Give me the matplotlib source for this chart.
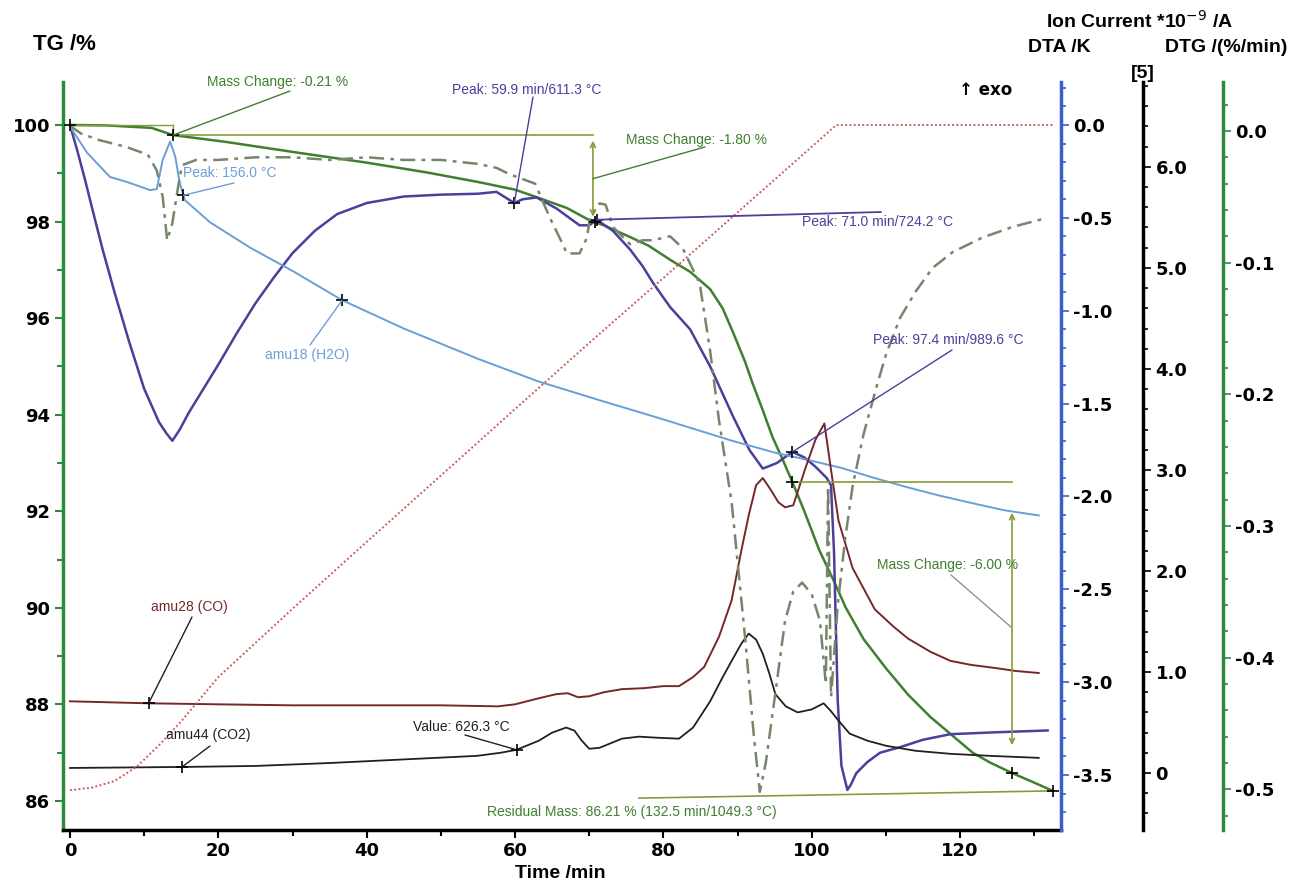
import numpy as np
import matplotlib
matplotlib.use("Agg")
import matplotlib.pyplot as plt
from matplotlib import font_manager
from matplotlib.ticker import MultipleLocator, FuncFormatter

W, H = 1289, 883

# fonts: narrow Arial-like if we have it
def pick_font(names):
    for n in names:
        try:
            font_manager.findfont(n, fallback_to_default=False)
            return n
        except Exception:
            pass
    return "DejaVu Sans"

NARROW = pick_font(["Liberation Sans Narrow", "Liberation Sans"])
SANS = pick_font(["Liberation Sans", "DejaVu Sans"])
plt.rcParams["font.family"] = [SANS, "DejaVu Sans"]

# ---- data, time in min ----
# TG /%
tg_t = [0, 5, 11, 13.9, 21, 31, 40, 48, 55, 60, 63, 67, 70, 72, 75.5, 78, 81,
        83.6, 86.3, 88, 89.4, 91, 92, 93.5, 94.7, 96, 97.4, 99, 101, 103, 104.6,
        107, 110, 113, 116, 119, 121.7, 124, 127, 130, 132.5]
tg = [100, 99.99, 99.94, 99.79, 99.65, 99.42, 99.22, 99.02, 98.82, 98.66, 98.5,
      98.28, 98.03, 97.92, 97.68, 97.5, 97.2, 96.96, 96.6, 96.2, 95.7, 95.1,
      94.66, 94.05, 93.54, 93.1, 92.6, 92.0, 91.2, 90.55, 90.0, 89.35, 88.75,
      88.2, 87.74, 87.35, 87.0, 86.8, 86.58, 86.38, 86.21]

# DTA /K
dta_t = [0, 1, 2, 3, 4.4, 6, 8, 10, 12, 13, 13.8, 14.8, 16, 18, 20, 22.5, 25,
         27.5, 30, 33, 36, 40, 45, 50, 55, 57.5, 59.9, 61, 62.9, 65.6, 68.7, 70,
         71.0, 73.2, 75.5, 77.2, 78.6, 80.9, 83.6, 86.3, 89.4, 91.6, 93.4, 95.3,
         97.4, 99, 100.5, 102, 102.6, 103, 103.5, 104, 104.8, 105.3, 106, 107.5,
         109.2, 111.9, 115, 118.7, 124.7, 131.8]
dta = [0, -0.14, -0.29, -0.45, -0.67, -0.9, -1.17, -1.42, -1.6, -1.66, -1.70,
       -1.64, -1.55, -1.42, -1.29, -1.12, -0.96, -0.82, -0.69, -0.57, -0.48,
       -0.42, -0.385, -0.375, -0.37, -0.36, -0.42, -0.40, -0.39, -0.45, -0.54,
       -0.54, -0.51, -0.57, -0.67, -0.76, -0.85, -0.98, -1.10, -1.30, -1.57,
       -1.75, -1.85, -1.82, -1.76, -1.79, -1.84, -1.90, -1.94, -2.3, -3.1,
       -3.45, -3.58, -3.55, -3.49, -3.43, -3.38, -3.35, -3.31, -3.28, -3.27,
       -3.26]

# DTG /(%/min)
dtg_t = [0, 1.5, 4, 7.5, 10.5, 11.7, 12.5, 13.1, 13.8, 14.5, 15.1, 17, 20, 25,
         30, 35, 40, 45, 50, 55, 57.5, 59.3, 62.7, 63.7, 64.7, 66, 67, 68.7,
         69.7, 70.1, 71.4, 72.2, 73.2, 75.5, 77.2, 78.6, 80.9, 82.6, 84.9, 86.3,
         87.5, 89.2, 91, 92.2, 93, 93.8, 94.9, 96.4, 97.5, 98.7, 100, 101.1,
         101.9, 102.2, 102.6, 103.5, 104.5, 105.5, 107, 108.8, 110, 111.9, 114,
         116.3, 119, 123, 127, 131.7]
dtg = [0.004, -0.002, -0.007, -0.012, -0.018, -0.03, -0.05, -0.083, -0.07,
       -0.045, -0.026, -0.022, -0.022, -0.02, -0.02, -0.022, -0.02, -0.022,
       -0.022, -0.025, -0.028, -0.033, -0.04, -0.053, -0.066, -0.081, -0.093,
       -0.093, -0.081, -0.066, -0.055, -0.056, -0.073, -0.086, -0.083, -0.083,
       -0.080, -0.089, -0.116, -0.167, -0.22, -0.282, -0.384, -0.46, -0.502,
       -0.48, -0.435, -0.372, -0.35, -0.343, -0.352, -0.372, -0.42, -0.27,
       -0.43, -0.36, -0.31, -0.27, -0.23, -0.193, -0.17, -0.142, -0.122,
       -0.104, -0.092, -0.081, -0.073, -0.066]

# temperature program /degC (own hidden scale)
temp_t = [0, 3, 6, 9, 12, 15, 20, 30, 40, 50, 59.9, 71.0, 80, 90, 97.4, 103.3, 132.5]
temp = [26, 30, 40, 62, 95, 132, 200, 305, 408, 510, 611.3, 724.2, 814, 915,
        989.6, 1049.3, 1049.3]

# ion currents *1e-9 A
ic18_t = [0, 2.3, 5.4, 7.7, 10.8, 11.7, 12.5, 13.5, 14.2, 14.8, 15.5, 18.9,
          24.3, 30, 36.7, 45, 55, 63, 71.4, 80, 89.2, 95.1, 100, 104, 108,
          112.8, 117, 121.7, 126, 130.6]
ic18 = [6.40, 6.14, 5.90, 5.85, 5.77, 5.78, 6.07, 6.25, 6.10, 5.84, 5.67, 5.45,
        5.20, 4.97, 4.68, 4.40, 4.10, 3.88, 3.69, 3.50, 3.29, 3.17, 3.09, 3.02,
        2.93, 2.83, 2.75, 2.67, 2.60, 2.55]

ic28_t = [0, 10.6, 20, 30, 40, 50, 57.7, 60, 63.2, 65.5, 67.1, 68.5, 70, 72,
          74.4, 77.4, 80, 82.1, 84, 85.5, 87.5, 89.2, 90.5, 91.5, 92.5, 93.4,
          94.5, 95.5, 96.4, 97.5, 99.2, 100.5, 101.7, 102.6, 103.6, 105.5,
          108.5, 111, 113, 116, 118.7, 121.5, 124.7, 127.5, 130.6]
ic28 = [0.71, 0.69, 0.68, 0.67, 0.67, 0.67, 0.66, 0.68, 0.74, 0.78, 0.79, 0.75,
        0.76, 0.80, 0.83, 0.84, 0.86, 0.86, 0.95, 1.05, 1.35, 1.71, 2.2, 2.55,
        2.85, 2.92, 2.8, 2.68, 2.63, 2.65, 3.03, 3.3, 3.46, 3.0, 2.5, 2.03,
        1.62, 1.45, 1.33, 1.2, 1.11, 1.07, 1.04, 1.01, 0.99]

ic44_t = [0, 15.1, 25, 35.3, 46.5, 54.9, 58, 60.2, 63.2, 65, 66.9, 68, 69, 70,
          71.4, 74.4, 76.7, 79, 82.1, 84, 86.3, 88, 89.2, 90.5, 91.5, 92.5,
          93.4, 94.3, 95.1, 96.5, 98.1, 100, 101.6, 102.5, 103.6, 105.1, 107.5,
          110, 114, 118.7, 124, 130.6]
ic44 = [0.05, 0.06, 0.07, 0.10, 0.14, 0.17, 0.20, 0.23, 0.32, 0.40, 0.45, 0.42,
        0.32, 0.24, 0.25, 0.34, 0.36, 0.35, 0.34, 0.45, 0.71, 0.95, 1.11, 1.28,
        1.38, 1.32, 1.18, 0.98, 0.78, 0.66, 0.60, 0.63, 0.69, 0.62, 0.52, 0.39,
        0.32, 0.27, 0.22, 0.19, 0.17, 0.15]

# colours
C_TG = "#3f7f2f"
C_STEP = "#8a9a3a"
C_DTA = "#4a3f9a"
C_DTG = "#76866a"
C_T = "#c86060"
C_H2O = "#6a9ed6"
C_CO = "#752828"
C_CO2 = "#202020"
C_GRN_SPINE = "#2e8b3e"
C_BLUE_SPINE = "#3a5fcd"

fig = plt.figure(figsize=(W / 100, H / 100), dpi=100)
ax = fig.add_axes([63 / W, 53 / H, 998 / W, 748 / H])
ax.set_xlim(-0.94, 133.6)
ax.set_ylim(85.40, 100.89)

ax_dta = ax.twinx()
ax_dta.set_ylim(-3.796, 0.2316)
ax_ic = ax.twinx()
ax_ic.set_ylim(-0.564, 6.84)
ax_ic.spines["right"].set_position(("axes", (1143 - 63) / 998))
ax_dtg = ax.twinx()
ax_dtg.set_ylim(-0.531, 0.0372)
ax_dtg.spines["right"].set_position(("axes", (1223 - 63) / 998))
ax_T = ax.twinx()
ax_T.set_ylim(-35.3, 1115.5)
ax_T.axis("off")

for a in (ax_dta, ax_ic, ax_dtg):
    for s in ("left", "top", "bottom"):
        a.spines[s].set_visible(False)
ax.spines["top"].set_visible(False)
ax.spines["right"].set_visible(False)

ax.spines["left"].set_color(C_GRN_SPINE)
ax.spines["left"].set_linewidth(2.5)
ax.spines["bottom"].set_color("black")
ax.spines["bottom"].set_linewidth(2.5)
ax_dta.spines["right"].set_color(C_BLUE_SPINE)
ax_dta.spines["right"].set_linewidth(2.5)
ax_ic.spines["right"].set_color("black")
ax_ic.spines["right"].set_linewidth(2.5)
ax_dtg.spines["right"].set_color(C_GRN_SPINE)
ax_dtg.spines["right"].set_linewidth(2.5)

tick_font = dict(family="DejaVu Sans", weight="bold", size=13)


def fmt1(v, pos):
    if abs(v) < 1e-9:
        return "0.0"
    return f"{v:.1f}"


def fmt_ic(v, pos):
    if abs(v) < 1e-9:
        return "0"
    return f"{v:.1f}"


ax.xaxis.set_major_locator(MultipleLocator(20))
ax.xaxis.set_minor_locator(MultipleLocator(10))
ax.yaxis.set_major_locator(MultipleLocator(2))
ax.yaxis.set_minor_locator(MultipleLocator(1))
ax.xaxis.set_major_formatter(FuncFormatter(lambda v, p: f"{v:.0f}"))
ax.yaxis.set_major_formatter(FuncFormatter(lambda v, p: f"{v:.0f}"))
ax.tick_params(axis="x", which="both", direction="out", color="black", width=1.5)
ax.tick_params(axis="x", which="major", length=6, pad=3)
ax.tick_params(axis="x", which="minor", length=4)
ax.tick_params(axis="y", which="both", direction="out", color=C_GRN_SPINE, width=1.5)
ax.tick_params(axis="y", which="major", length=6, pad=3)
ax.tick_params(axis="y", which="minor", length=4)

ax_dta.yaxis.set_major_locator(MultipleLocator(0.5))
ax_dta.yaxis.set_minor_locator(MultipleLocator(0.1))
ax_dta.yaxis.set_major_formatter(FuncFormatter(fmt1))
ax_ic.yaxis.set_major_locator(MultipleLocator(1.0))
ax_ic.yaxis.set_minor_locator(MultipleLocator(0.2))
ax_ic.yaxis.set_major_formatter(FuncFormatter(fmt_ic))
ax_dtg.yaxis.set_major_locator(MultipleLocator(0.1))
ax_dtg.yaxis.set_minor_locator(MultipleLocator(0.02))
ax_dtg.yaxis.set_major_formatter(FuncFormatter(fmt1))
for a, c in ((ax_dta, C_BLUE_SPINE), (ax_ic, "black"), (ax_dtg, C_GRN_SPINE)):
    a.tick_params(axis="y", which="both", direction="out", color=c, width=1.2)
    a.tick_params(axis="y", which="major", length=6, pad=3)
    a.tick_params(axis="y", which="minor", length=3.5)

for a in (ax, ax_dta, ax_ic, ax_dtg):
    for lab in a.get_xticklabels() + a.get_yticklabels():
        lab.set_fontproperties(font_manager.FontProperties(**tick_font))

# ---- curves ----
ax_T.plot(temp_t, temp, color=C_T, ls=(0, (1, 1.2)), lw=1.4)
ax_dtg.plot(dtg_t, dtg, color=C_DTG, ls=(0, (6, 2.5, 1.5, 2.5)), lw=1.8)
ax_ic.plot(ic18_t, ic18, color=C_H2O, lw=1.4)
ax_ic.plot(ic28_t, ic28, color=C_CO, lw=1.4)
ax_ic.plot(ic44_t, ic44, color=C_CO2, lw=1.3)
ax_dta.plot(dta_t, dta, color=C_DTA, lw=1.8)
ax.plot(tg_t, tg, color=C_TG, lw=1.8)

# ---- evaluation points ----
def at(ts, vs, t):
    return float(np.interp(t, ts, vs))

tg0 = at(tg_t, tg, 0)
tg1 = at(tg_t, tg, 13.9)
tg2 = at(tg_t, tg, 70.8)
tg3 = at(tg_t, tg, 97.4)
tg4 = at(tg_t, tg, 127.0)
tg5 = at(tg_t, tg, 132.5)

# mass change step lines, TG scale, drawn on the top layer
tr = ax.transData

def seg(x0, y0, x1, y1, color, lw=1.2, trans=tr):
    ax_T.plot([x0, x1], [y0, y1], color=color, lw=lw, transform=trans, clip_on=False)

seg(0, tg0, 13.9, tg0, C_STEP, 1.0)
seg(13.9, tg0, 13.9, tg1, C_STEP, 1.0)
seg(13.9, tg1, 70.5, tg1, C_STEP, 1.2)
seg(97.4, tg3, 127.0, tg3, C_STEP, 1.2)
seg(tg_t[-1], tg5, 76.7, 86.06, C_STEP, 1.2)

arr = dict(arrowstyle="<->", color=C_STEP, lw=1.2, mutation_scale=9)
ax_T.annotate("", xy=(70.5, tg2), xycoords=tr, xytext=(70.5, tg1), textcoords=tr,
              arrowprops=dict(shrinkA=4, shrinkB=4, **arr))
ax_T.annotate("", xy=(127.0, tg4), xycoords=tr, xytext=(127.0, tg3), textcoords=tr,
              arrowprops=dict(shrinkA=22, shrinkB=20, **arr))

# markers "+"
marks = [
    (ax, 0, tg0), (ax, 13.9, tg1), (ax, 70.8, tg2), (ax, 97.4, tg3),
    (ax, 127.0, tg4), (ax, 132.5, tg5),
    (ax_dta, 59.9, at(dta_t, dta, 59.9)), (ax_dta, 71.0, at(dta_t, dta, 71.0)),
    (ax_dta, 97.4, at(dta_t, dta, 97.4)),
    (ax_ic, 15.3, at(ic18_t, ic18, 15.3)), (ax_ic, 36.7, at(ic18_t, ic18, 36.7)),
    (ax_ic, 10.6, at(ic28_t, ic28, 10.6)),
    (ax_ic, 15.1, at(ic44_t, ic44, 15.1)), (ax_ic, 60.2, at(ic44_t, ic44, 60.2)),
]
for a, x, y in marks:
    ax_T.plot([x], [y], marker="+", ms=9, mew=1.2, color="black",
              transform=a.transData, clip_on=False)

# annotation texts and leader lines
ann_font = dict(family=[NARROW, SANS], size=10)

def label(text, color, px, py, ha="left"):
    fig.text(px / W, 1 - py / H, text, color=color, ha=ha, va="center", **ann_font)

def leader(a, x, y, px, py, color, lw=1.0):
    ax_T.annotate("", xy=(px, H - py), xycoords="figure pixels",
                  xytext=(x, y), textcoords=a.transData,
                  arrowprops=dict(arrowstyle="-", color=color, lw=lw,
                                  shrinkA=0, shrinkB=0))

label("Mass Change: -0.21 %", C_TG, 207, 82)
leader(ax, 13.9, tg1, 290, 91, C_TG)

label("Peak: 59.9 min/611.3 \u00b0C", C_DTA, 452, 90)
leader(ax_dta, 59.9, at(dta_t, dta, 59.9), 533, 97, C_DTA)

label("Peak: 156.0 \u00b0C", C_H2O, 183, 173)
leader(ax_ic, 15.3, at(ic18_t, ic18, 15.3), 234, 183, C_H2O)

label("Mass Change: -1.80 %", C_TG, 626, 140)
leader(ax, 70.5, (tg1 + tg2) / 2, 705, 147, C_TG)

label("Peak: 71.0 min/724.2 \u00b0C", C_DTA, 802, 222)
leader(ax_dta, 71.0, at(dta_t, dta, 71.0), 881, 212, C_DTA, 1.3)

label("amu18 (H2O)", C_H2O, 265, 355)
leader(ax_ic, 36.7, at(ic18_t, ic18, 36.7), 310, 345, C_H2O)

label("Peak: 97.4 min/989.6 \u00b0C", C_DTA, 873, 340)
leader(ax_dta, 97.4, at(dta_t, dta, 97.4), 952, 350, C_DTA)

label("Mass Change: -6.00 %", C_TG, 877, 565)
ax_T.annotate("", xy=(951, H - 575), xycoords="figure pixels",
              xytext=(1011, H - 627), textcoords="figure pixels",
              arrowprops=dict(arrowstyle="-", color="#909090", lw=1.0,
                              shrinkA=0, shrinkB=0))

label("amu28 (CO)", C_CO, 151, 607)
leader(ax_ic, 10.6, at(ic28_t, ic28, 10.6), 192, 617, C_CO2)

label("amu44 (CO2)", C_CO2, 166, 735)
leader(ax_ic, 15.1, at(ic44_t, ic44, 15.1), 210, 746, C_CO2)

label("Value: 626.3 \u00b0C", C_CO2, 413, 727)
leader(ax_ic, 60.2, at(ic44_t, ic44, 60.2), 465, 735, C_CO2)

label("Residual Mass: 86.21 % (132.5 min/1049.3 \u00b0C)", C_TG, 487, 812)

# axis titles
head = dict(family=[NARROW, SANS], weight="bold", size=14)
fig.text(33 / W, 1 - 45 / H, "TG /%", ha="left", va="center",
         family=[NARROW, SANS], weight="bold", size=16)
fig.text(1140 / W, 1 - 21 / H, "Ion Current *10$^{-9}$ /A", ha="center", va="center", **head)
fig.text(1059 / W, 1 - 47 / H, "DTA /K", ha="center", va="center", **head)
fig.text(1287 / W, 1 - 47 / H, "DTG /(%/min)", ha="right", va="center", **head)
fig.text(1143 / W, 1 - 74 / H, "[5]", ha="center", va="center", **head)
fig.text(986 / W, 1 - 90 / H, "\u2191 exo", ha="center", va="center",
         family=["DejaVu Sans"], weight="bold", size=12)
fig.text(560 / W, 1 - 874 / H, "Time /min", ha="center", va="center", **head)

fig.savefig("out.png", dpi=100)
